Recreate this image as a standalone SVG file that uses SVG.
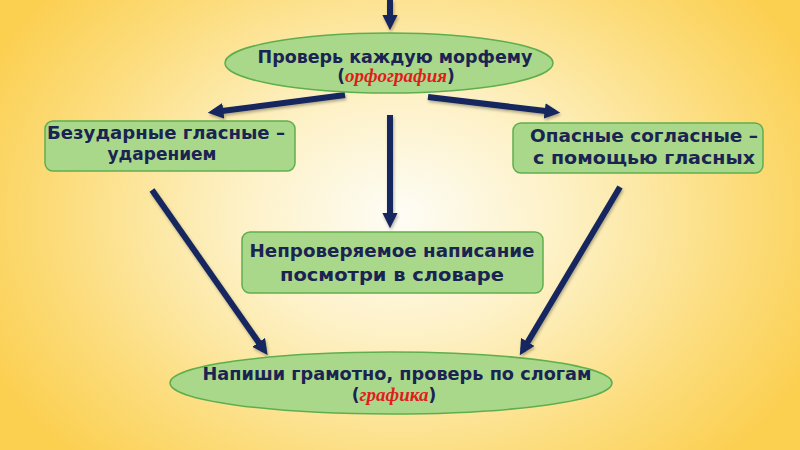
<svg xmlns="http://www.w3.org/2000/svg" width="800" height="450" viewBox="0 0 800 450">
<defs>
<radialGradient id="bg" cx="400" cy="215" r="460" gradientUnits="userSpaceOnUse" gradientTransform="translate(400 215) scale(1 0.75) translate(-400 -215)">
<stop offset="0" stop-color="#fefdf6"/>
<stop offset="0.35" stop-color="#fdf1c6"/>
<stop offset="0.75" stop-color="#fcdc7a"/>
<stop offset="1" stop-color="#fbcf50"/>
</radialGradient>
<marker id="ah" viewBox="0 0 10 10" refX="6" refY="5" markerWidth="2.6" markerHeight="2.6" orient="auto" markerUnits="strokeWidth">
<path d="M0,0 L10,5 L0,10 Z" fill="#14255e"/>
</marker>
<filter id="sh" filterUnits="userSpaceOnUse" x="0" y="0" width="800" height="450">
<feDropShadow dx="1" dy="2" stdDeviation="1.5" flood-color="#000" flood-opacity="0.3"/>
</filter>
</defs>
<style>
.node{fill:#a9d88a;stroke:#5fae4e;stroke-width:1.5}
.t{font-family:"DejaVu Sans","Liberation Sans",Arial,sans-serif;font-weight:bold;font-size:17px;fill:#1b2352;text-anchor:middle}
.r{font-family:"Liberation Serif","Times New Roman",serif;font-weight:bold;font-style:italic;font-size:19px;fill:#e21c1c}
.c{stroke:#14255e;stroke-width:6;fill:none;marker-end:url(#ah);filter:url(#sh)}
</style>
<rect width="800" height="450" fill="url(#bg)"/>
<g id="connectors">
<line class="c" x1="390" y1="0" x2="390" y2="24"/>
<line class="c" x1="345" y1="95" x2="214" y2="112"/>
<line class="c" x1="428" y1="97" x2="554" y2="112"/>
<line class="c" x1="390" y1="115" x2="390" y2="222"/>
<line class="c" x1="152" y1="190" x2="264" y2="350"/>
<line class="c" x1="620" y1="187" x2="523" y2="350"/>
</g>
<g id="n-top">
<ellipse class="node" cx="389" cy="63" rx="164" ry="30"/>
<text class="t" x="395" y="63" textLength="275" lengthAdjust="spacingAndGlyphs">Проверь каждую морфему</text>
<text class="t" x="396" y="82">(<tspan class="r">орфография</tspan>)</text>
</g>
<g id="n-left">
<rect class="node" x="45" y="121" width="250" height="50" rx="8"/>
<text class="t" x="166" y="139" textLength="238" lengthAdjust="spacingAndGlyphs">Безударные гласные –</text>
<text class="t" x="162" y="160">ударением</text>
</g>
<g id="n-right">
<rect class="node" x="513" y="123" width="250" height="50" rx="8"/>
<text class="t" x="644" y="142" textLength="228" lengthAdjust="spacingAndGlyphs">Опасные согласные –</text>
<text class="t" x="644" y="164" textLength="222" lengthAdjust="spacingAndGlyphs">с помощью гласных</text>
</g>
<g id="n-mid">
<rect class="node" x="242" y="232" width="301" height="61" rx="8"/>
<text class="t" x="392" y="257" textLength="285" lengthAdjust="spacingAndGlyphs">Непроверяемое написание</text>
<text class="t" x="392" y="281" textLength="224" lengthAdjust="spacingAndGlyphs">посмотри в словаре</text>
</g>
<g id="n-bottom">
<ellipse class="node" cx="391" cy="383" rx="221" ry="31"/>
<text class="t" x="397" y="380" textLength="389" lengthAdjust="spacingAndGlyphs">Напиши грамотно, проверь по слогам</text>
<text class="t" x="394" y="401">(<tspan class="r">графика</tspan>)</text>
</g>
</svg>
